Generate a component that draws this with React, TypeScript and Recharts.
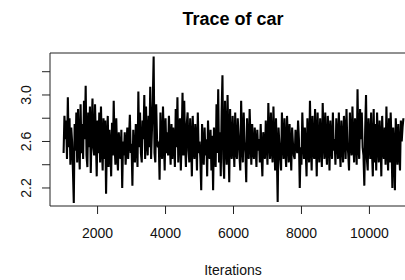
import React from "react";
import { LineChart, Line, XAxis, YAxis, ReferenceArea } from "recharts";

const chartTitle = "Trace of car";
const xAxisTitle = "Iterations";
const firstIteration = 1000;
const thinningStep = 25;

// thinned trace values of "car" (16 per 400 iterations)
const carTrace = [
  2.50, 2.82, 2.62, 2.78, 2.45, 2.98, 2.55, 2.80, 2.40, 2.72, 2.60, 2.35, 2.07, 2.75, 2.52, 2.85,
  2.42, 2.88, 2.58, 2.36, 2.92, 2.50, 2.75, 2.45, 2.95, 2.62, 3.08, 2.48, 2.38, 2.85, 2.55, 2.90,
  2.33, 2.70, 2.97, 2.55, 2.48, 2.92, 2.62, 2.30, 2.78, 2.50, 2.85, 2.42, 2.90, 2.58, 2.35, 2.80,
  2.45, 2.78, 2.15, 2.62, 2.82, 2.38, 2.70, 2.55, 2.30, 2.76, 2.48, 2.95, 2.58, 2.40, 2.80, 2.50,
  2.35, 2.68, 2.52, 2.45, 2.70, 2.20, 2.60, 2.48, 2.68, 2.40, 2.55, 2.72, 2.45, 2.62, 2.83, 2.50,
  2.58, 2.22, 2.70, 2.48, 2.42, 2.75, 2.60, 2.38, 3.03, 2.55, 2.85, 2.50, 2.42, 2.78, 2.62, 3.00,
  2.45, 2.90, 2.60, 2.48, 2.82, 2.55, 3.07, 2.45, 2.70, 2.95, 3.33, 2.50, 2.42, 2.92, 2.62, 2.55,
  2.60, 2.27, 2.85, 2.55, 2.45, 2.90, 2.62, 2.35, 2.80, 2.50, 2.68, 2.48, 2.82, 2.58, 2.40, 2.75,
  2.45, 2.72, 2.60, 2.38, 2.88, 2.55, 2.98, 2.42, 2.70, 2.80, 2.35, 2.62, 3.02, 2.48, 2.95, 2.58,
  2.38, 2.75, 2.85, 2.52, 2.42, 2.80, 2.60, 2.30, 2.82, 2.55, 2.45, 2.75, 2.62, 2.35, 2.85, 2.50,
  2.60, 2.45, 2.18, 2.75, 2.55, 2.40, 2.72, 2.48, 2.62, 2.30, 2.78, 2.52, 2.45, 2.70, 2.35, 2.65,
  2.18, 2.72, 2.55, 2.38, 2.92, 2.50, 3.05, 2.42, 2.68, 2.30, 2.85, 3.17, 2.45, 2.28, 2.95, 2.60,
  2.40, 3.00, 2.62, 2.25, 2.88, 2.55, 2.45, 2.82, 2.60, 2.38, 2.85, 2.52, 2.45, 2.80, 2.65, 2.48,
  2.35, 2.95, 2.58, 2.42, 2.85, 2.60, 2.50, 2.25, 2.80, 2.55, 2.45, 2.88, 2.62, 2.40, 2.75, 2.52,
  2.45, 2.72, 2.58, 2.38, 2.70, 2.52, 2.62, 2.42, 2.75, 2.48, 2.30, 2.68, 2.55, 2.45, 2.78, 2.60,
  2.40, 2.93, 2.62, 2.45, 2.85, 2.55, 2.42, 2.90, 2.60, 2.35, 2.80, 2.50, 2.08, 2.72, 2.58, 2.45,
  2.35, 2.85, 2.60, 2.45, 2.80, 2.52, 2.38, 2.82, 2.62, 2.42, 2.75, 2.55, 2.35, 2.72, 2.58, 2.48,
  2.45, 2.70, 2.58, 2.50, 2.78, 2.62, 2.20, 2.55, 2.40, 2.85, 2.60, 2.45, 2.72, 2.52, 2.30, 2.80,
  2.55, 2.42, 2.95, 2.60, 2.35, 2.82, 2.52, 2.45, 2.88, 2.62, 2.30, 2.85, 2.55, 2.42, 2.80, 2.60,
  2.38, 2.93, 2.62, 2.45, 2.85, 2.55, 2.40, 2.82, 2.65, 2.35, 2.78, 2.58, 2.45, 2.85, 2.52, 2.62,
  2.40, 2.80, 2.62, 2.45, 2.85, 2.55, 2.38, 2.78, 2.60, 2.42, 2.82, 2.68, 2.45, 2.88, 2.58, 2.50,
  2.35, 2.85, 2.62, 2.48, 2.90, 2.58, 2.42, 2.80, 2.65, 2.40, 3.05, 2.55, 2.45, 2.88, 2.62, 2.85,
  2.55, 2.48, 2.22, 2.70, 3.00, 2.45, 2.35, 2.80, 2.60, 2.45, 2.85, 2.52, 2.30, 2.88, 2.42, 2.75,
  2.35, 2.85, 2.58, 2.42, 2.78, 2.62, 2.30, 2.82, 2.55, 2.45, 2.72, 2.40, 2.90, 2.55, 2.35, 2.80,
  2.42, 2.85, 2.60, 2.20, 2.72, 2.55, 2.18, 2.80, 2.62, 2.40, 2.75, 2.52, 2.35, 2.78, 2.60, 2.72,
  2.80,
];

const xTicks = [2000, 4000, 6000, 8000, 10000];
const yTicks = [2.2, 2.4, 2.6, 2.8, 3.0, 3.2];
const yLabelled = ["2.2", "2.6", "3.0"];
const xDomain: [number, number] = [600, 11400];
const yDomain: [number, number] = [2.045, 3.361];

const data = carTrace.map((v, i) => ({ iter: firstIteration + i * thinningStep, car: v }));

const FONT = "'Liberation Sans', Arial, sans-serif";

const YTick = (props: any) => {
  const { y, payload } = props;
  const label = Number(payload.value).toFixed(1);
  if (!yLabelled.includes(label)) return <g />;
  const cx = 26;
  return (
    <text
      x={cx}
      y={y}
      transform={`rotate(-90 ${cx} ${y})`}
      textAnchor="middle"
      dominantBaseline="central"
      fontSize={14}
      fontFamily={FONT}
      fill="#111"
    >
      {label}
    </text>
  );
};

export default function App() {
  return (
    <div
      style={{
        position: "absolute",
        left: 0,
        top: 0,
        width: 405,
        height: 280,
        overflow: "hidden",
        background: "#fff",
      }}
    >
      <LineChart
        width={417}
        height={280}
        data={data}
        margin={{ top: 53, right: 0, bottom: 0, left: 0 }}
      >
        <XAxis
          dataKey="iter"
          type="number"
          domain={xDomain}
          ticks={xTicks}
          axisLine={false}
          tickLine={{ stroke: "#222", strokeWidth: 1 }}
          tickSize={8}
          tickMargin={14}
          height={74}
          tick={{ fontSize: 14, fontFamily: FONT, fill: "#111" }}
          allowDataOverflow
        />
        <YAxis
          type="number"
          domain={yDomain}
          ticks={yTicks}
          axisLine={false}
          tickLine={{ stroke: "#222", strokeWidth: 1 }}
          tickSize={8}
          width={50}
          tick={<YTick />}
          allowDataOverflow
        />
        <ReferenceArea
          x1={xDomain[0]}
          x2={xDomain[1]}
          y1={yDomain[0]}
          y2={yDomain[1]}
          fill="none"
          stroke="#222"
          strokeWidth={1}
          fillOpacity={0}
          ifOverflow="visible"
        />
        <Line
          dataKey="car"
          type="linear"
          stroke="#000"
          strokeWidth={2.1}
          strokeLinejoin="bevel"
          dot={false}
          activeDot={false}
          isAnimationActive={false}
        />
      </LineChart>
      <div
        style={{
          position: "absolute",
          left: 0,
          top: 10,
          width: 466,
          textAlign: "center",
          fontFamily: FONT,
          fontWeight: "bold",
          fontSize: 18,
          lineHeight: "18px",
          color: "#000",
        }}
      >
        {chartTitle}
      </div>
      <div
        style={{
          position: "absolute",
          left: 0,
          top: 263,
          width: 466,
          textAlign: "center",
          fontFamily: FONT,
          fontSize: 14,
          lineHeight: "14px",
          color: "#111",
        }}
      >
        {xAxisTitle}
      </div>
    </div>
  );
}
